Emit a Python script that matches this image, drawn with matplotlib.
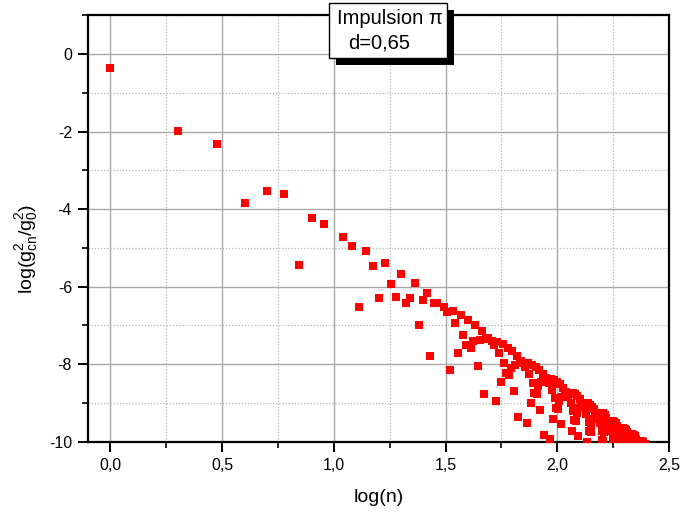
import numpy as np
import matplotlib
matplotlib.use("Agg")
import matplotlib.pyplot as plt
from matplotlib.ticker import MultipleLocator, FixedLocator, FixedFormatter
from matplotlib.patches import Rectangle

plt.rcParams['font.family'] = ['Liberation Sans', 'DejaVu Sans']
plt.rcParams['axes.unicode_minus'] = False

# log(g_cn^2/g_0^2) for harmonic n = 1, 2, 3, ... (None = not visible in the plot)
y_vals = [
    -0.36, -1.98, -2.32, -3.85, -3.53, -3.60, -5.44, -4.24, -4.37, None,
    -4.72, -4.96, -6.52, -5.08, -5.46, -6.29, -5.39, -5.94, -6.26, -5.66,
    -6.43, -6.29, -5.91, -7.00, -6.35, -6.16, -7.79, -6.43, -6.41, None,
    -6.52, -6.66, -8.14, -6.63, -6.93, -7.70, -6.74, -7.24, -7.51, -6.86,
    -7.59, -7.41, -7.00, -8.05, -7.37, -7.15, -8.76, -7.36, -7.32, None,
    -7.39, -7.50, -8.96, -7.43, -7.72, -8.47, -7.49, -7.97, -8.23, -7.57,
    -8.28, -8.09, -7.66, -8.70, -8.01, -7.78, -9.37, -7.97, -7.91, None,
    -7.96, -8.07, -9.52, -7.98, -8.26, -9.00, -8.01, -8.49, -8.73, -8.07,
    -8.78, -8.57, -8.14, -9.17, -8.47, -8.24, -9.82, -8.42, -8.35, None,
    -8.39, -8.49, -9.94, -8.39, -8.67, -9.40, -8.41, -8.88, -9.12, -8.46,
    -9.16, -8.95, -8.52, -9.54, -8.84, -8.60, None, -8.77, -8.71, None,
    -8.74, -8.84, None, -8.73, -9.00, -9.73, -8.74, -9.21, -9.44, -8.77,
    -9.47, -9.26, -8.83, -9.85, -9.14, -8.90, None, -9.07, -9.00, None,
    -9.02, -9.12, None, -9.01, -9.28, -10.01, -9.01, -9.48, -9.71, -9.04,
    -9.74, -9.53, -9.09, None, -9.40, -9.16, None, -9.32, -9.25, None,
    -9.27, -9.37, None, -9.25, -9.52, None, -9.25, -9.71, -9.95, -9.27,
    -9.97, -9.76, -9.32, None, -9.63, -9.38, None, -9.54, -9.47, None,
    -9.49, -9.58, None, -9.46, -9.73, None, -9.46, -9.92, None, -9.48,
    None, -9.96, -9.52, None, -9.83, -9.58, None, -9.74, -9.66, None,
    -9.68, -9.77, None, -9.65, -9.92, None, -9.64, None, None, -9.66,
    None, None, -9.70, None, -10.00, -9.76, None, -9.91, -9.84, None,
    -9.85, -9.95, None, -9.82, None, None, -9.81, None, None, -9.83,
    None, None, -9.86, None, None, -9.92, None, -10.07, -10.00, None,
    -10.01, None, None, -9.98, None, None, -9.97, None, None, -9.98,
    None, None, -10.01, None, None, -10.06,
]

x_ticks = [0.0, 0.5, 1.0, 1.5, 2.0, 2.5]
x_tick_labels = ['0,0', '0,5', '1,0', '1,5', '2,0', '2,5']
y_ticks = [-10, -8, -6, -4, -2, 0]
y_tick_labels = ['-10', '-8', '-6', '-4', '-2', '0']

n = np.arange(1, len(y_vals) + 1)
x = np.log10(n)
y = np.array(y_vals, dtype=float)

W, H = 681, 515
fig = plt.figure(figsize=(W / 100, H / 100), dpi=100)
L, R, T, B = 88, 669, 15.3, 441.8
ax = fig.add_axes([L / W, 1 - B / H, (R - L) / W, (B - T) / H])

ax.plot(x, y, 's', color='#ff0000', ms=5.6, mew=0, zorder=3)

ax.set_xlim(-0.1, 2.5)
ax.set_ylim(-10, 1)
ax.xaxis.set_major_locator(FixedLocator(x_ticks))
ax.xaxis.set_major_formatter(FixedFormatter(x_tick_labels))
ax.xaxis.set_minor_locator(MultipleLocator(0.25))
ax.yaxis.set_major_locator(FixedLocator(y_ticks))
ax.yaxis.set_major_formatter(FixedFormatter(y_tick_labels))
ax.yaxis.set_minor_locator(MultipleLocator(1))

ax.set_axisbelow(True)
ax.grid(which='major', color='#a8a8a8', lw=1.0, ls='-')
ax.grid(which='minor', color='#b4b4b4', lw=0.9, ls=(0, (1, 1.5)))

for s in ax.spines.values():
    s.set_linewidth(1.6)
    s.set_color('black')

ax.tick_params(which='major', direction='out', length=7, width=1.4,
               top=False, right=False, labelsize=11.5, pad=4.5, colors='black')
ax.tick_params(which='minor', direction='out', length=4, width=1.2,
               top=False, right=False)

fig.text(378.5 / W, 1 - 497 / H, 'log(n)', ha='center', va='center', fontsize=14)
fig.text(27 / W, 1 - 249 / H, r'log($\mathregular{g^2_{cn}/g^2_0}$)',
         rotation=90, ha='center', va='center', fontsize=14)

# annotation box with shadow
bx0, bx1, by0, by1 = 329.3, 447.0, 3.3, 58.3
off = 6.7
shadow = Rectangle(((bx0 + off) / W, 1 - (by1 + off) / H), (bx1 - bx0) / W,
                   (by1 - by0) / H, transform=fig.transFigure,
                   facecolor='black', edgecolor='black', lw=0, zorder=10)
box = Rectangle((bx0 / W, 1 - by1 / H), (bx1 - bx0) / W, (by1 - by0) / H,
                transform=fig.transFigure, facecolor='white',
                edgecolor='black', lw=1.0, zorder=11)
fig.patches.extend([shadow, box])
fig.text(337 / W, 1 - 18.3 / H, 'Impulsion π', ha='left', va='center',
         fontsize=14.5, zorder=12)
fig.text(348 / W, 1 - 43.3 / H, 'd=0,65', ha='left', va='center',
         fontsize=14.5, zorder=12)

fig.savefig('out.png', dpi=100)
